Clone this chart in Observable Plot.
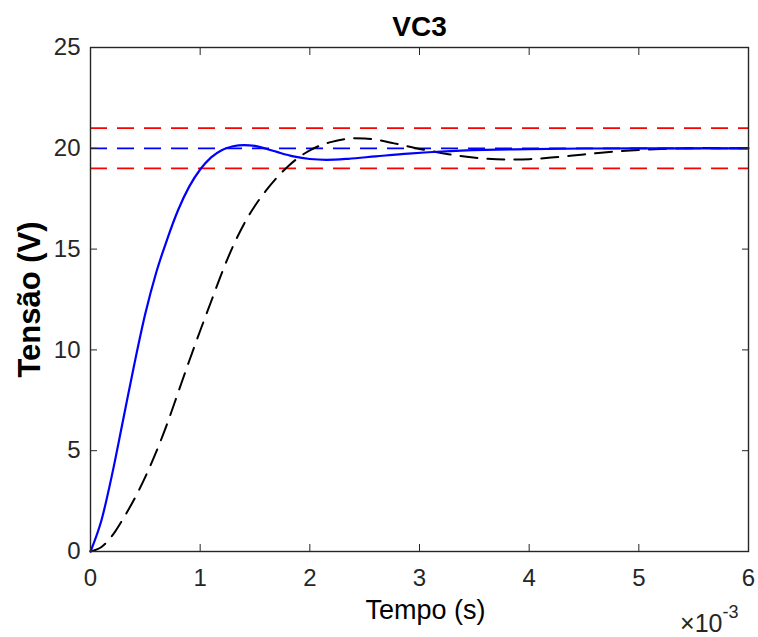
<!DOCTYPE html>
<html><head><meta charset="utf-8">
<script src="https://cdn.jsdelivr.net/npm/d3@7"></script>
<script src="https://cdn.jsdelivr.net/npm/@observablehq/plot@0.6"></script>
<style>
body{margin:0;background:#fff}
#chart svg{font-family:"Liberation Sans",Arial,Helvetica,sans-serif}
</style>
</head><body><div id="chart"></div>
<script>
// time in ms (axis shown as ×10^-3 s), voltage in V
const blueT = [0, 0.1, 0.2, 0.3, 0.4, 0.5, 0.6, 0.7, 0.8, 0.9, 1.0, 1.1, 1.2, 1.3, 1.4, 1.5, 1.6, 1.7, 1.85, 2.0, 2.15, 2.35, 2.6, 2.9, 3.2, 3.6, 4.0, 4.5, 5.0, 6.0];
const blueV = [0, 1.55, 3.9, 6.6, 9.3, 11.8, 13.85, 15.5, 16.95, 18.1, 18.95, 19.55, 19.92, 20.1, 20.16, 20.12, 19.98, 19.82, 19.6, 19.47, 19.43, 19.48, 19.6, 19.74, 19.84, 19.92, 19.96, 19.99, 20.0, 20.0];
const blackT = [0, 0.1, 0.2, 0.3, 0.4, 0.5, 0.6, 0.7, 0.8, 0.9, 1.0, 1.1, 1.2, 1.3, 1.4, 1.5, 1.6, 1.7, 1.8, 1.9, 2.0, 2.1, 2.2, 2.3, 2.4, 2.5, 2.6, 2.7, 2.85, 3.0, 3.15, 3.3, 3.45, 3.6, 3.8, 4.0, 4.2, 4.4, 4.6, 4.8, 5.0, 5.3, 5.6, 6.0];
const blackV = [0, 0.22, 0.8, 1.65, 2.6, 3.7, 4.95, 6.35, 7.9, 9.45, 10.95, 12.4, 13.85, 15.15, 16.25, 17.15, 17.9, 18.55, 19.1, 19.55, 19.9, 20.15, 20.32, 20.44, 20.5, 20.49, 20.43, 20.33, 20.15, 19.97, 19.82, 19.68, 19.57, 19.49, 19.44, 19.46, 19.54, 19.64, 19.75, 19.85, 19.92, 19.98, 20.01, 20.0];
const redLevels = [19, 21];
const blueLevels = [20];
const xTicks = [0, 1, 2, 3, 4, 5, 6];
const yTicks = [0, 5, 10, 15, 20, 25];
const titleText = "VC3";
const xLabel = "Tempo (s)";
const yLabel = "Tensão (V)";
const expBase = "×10";
const expPow = "-3";

const blueData = blueT.map((t, i) => ({t, v: blueV[i]}));
const blackData = blackT.map((t, i) => ({t, v: blackV[i]}));

const ink = "#262626";
const fmt = d => String(d);
const chart = Plot.plot({
  width: 758, height: 637,
  marginLeft: 90, marginRight: 10, marginTop: 47, marginBottom: 86,
  style: {fontFamily: '"Liberation Sans",Arial,sans-serif', fontSize: "24px", color: ink, background: "#fff", overflow: "visible"},
  x: {domain: [0, 6]},
  y: {domain: [0, 25]},
  marks: [
    Plot.ruleY(redLevels, {y: d => d, stroke: "#ff0000", strokeWidth: 1.8, strokeDasharray: "17,10"}),
    Plot.ruleY(blueLevels, {y: d => d, stroke: "#0000ff", strokeWidth: 1.8, strokeDasharray: "17,10"}),
    Plot.line(blackData, {x: "t", y: "v", stroke: "#000", strokeWidth: 2, strokeDasharray: "17,10", curve: "monotone-x"}),
    Plot.line(blueData, {x: "t", y: "v", stroke: "#0000ff", strokeWidth: 2.2, curve: "monotone-x"}),
    Plot.frame({stroke: ink, strokeWidth: 1.4}),
    Plot.axisX({anchor: "bottom", ticks: xTicks, tickFormat: fmt, tickSize: -7, tickPadding: 24, label: null, fontSize: 24, stroke: ink}),
    Plot.axisX({anchor: "top", ticks: xTicks, tickSize: -7, tickFormat: () => "", label: null, stroke: ink}),
    Plot.axisY({anchor: "left", ticks: yTicks, tickFormat: fmt, tickSize: -7, tickPadding: 17, label: null, fontSize: 24, stroke: ink}),
    Plot.axisY({anchor: "right", ticks: yTicks, tickSize: -7, tickFormat: () => "", label: null, stroke: ink}),
    Plot.text([titleText], {text: d => d, frameAnchor: "top", lineAnchor: "middle", textAnchor: "middle", dy: -20, fontSize: 28, fontWeight: "bold", fill: "#000"}),
    Plot.text([xLabel], {text: d => d, frameAnchor: "bottom", lineAnchor: "middle", textAnchor: "middle", dx: 6, dy: 59, fontSize: 27, fill: "#000"}),
    Plot.text([yLabel], {text: d => d, frameAnchor: "left", lineAnchor: "middle", textAnchor: "middle", dx: -60, rotate: -90, fontSize: 31, fontWeight: "bold", fill: "#000"}),
    Plot.text([expBase], {text: d => d, frameAnchor: "bottom-right", lineAnchor: "middle", textAnchor: "end", dx: -26, dy: 72, fontSize: 25, fill: ink}),
    Plot.text([expPow], {text: d => d, frameAnchor: "bottom-right", lineAnchor: "middle", textAnchor: "start", dx: -26, dy: 61, fontSize: 18, fill: ink})
  ]
});
document.getElementById("chart").append(chart);
</script>
</body></html>
